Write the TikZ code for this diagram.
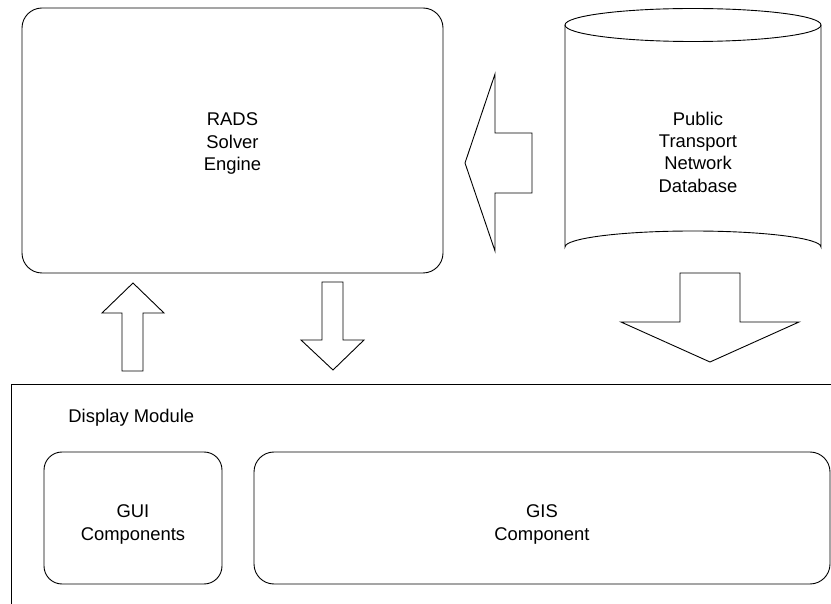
\documentclass[tikz,border=0pt]{standalone}
\usepackage{fontspec}
\setmainfont{Liberation Sans}
\begin{document}
\begin{tikzpicture}[x=1pt,y=-1pt,
  line width=0.9pt,
  lbl/.style={align=center,font=\fontsize{18.4}{22.3}\selectfont,inner sep=0pt},
  rbox/.style={draw,rounded corners=20pt},
  blockarrow/.style={draw,fill=white,line join=miter}]
\useasboundingbox (0,0) rectangle (831,604);
% RADS solver engine
\node[rbox,minimum width=421pt,minimum height=265pt] (rads) at (232.5,140.5) {};
\node[lbl] (radsl) at (232.5,143.5) {RADS\\Solver\\Engine};
% database cylinder
\draw (565,25) -- (565,247) arc[start angle=180,end angle=360,x radius=128,y radius=16] -- (821,25);
\draw (693,25) ellipse[x radius=128,y radius=16.5];
\node[lbl] (db) at (698,152) {Public\\Transport\\Network\\Database};
% big left arrow (db -> rads)
\draw[blockarrow] (465,163) -- (495,74) -- (495,133) -- (532,133) -- (532,193) -- (495,193) -- (495,251) -- cycle;
% down arrow below database
\draw[blockarrow] (680,273) -- (740,273) -- (740,322) -- (799,322) -- (710,362) -- (621,322) -- (680,322) -- cycle;
% up arrow (display -> rads)
\draw[blockarrow] (133,283) -- (164,313) -- (143,313) -- (143,371) -- (122,371) -- (122,313) -- (102,313) -- cycle;
% down arrow (rads -> display)
\draw[blockarrow] (322,282) -- (343,282) -- (343,340) -- (364,340) -- (333,370) -- (301,340) -- (322,340) -- cycle;
% display module frame
\draw (840,384) -- (11,384) -- (11,612);
\node[lbl,anchor=base west] (dm) at (68,423) {Display Module};
% components
\node[draw,rounded corners=18pt,minimum width=178pt,minimum height=132pt] (gui) at (133,518) {};
\node[lbl] (guil) at (133,524.5) {GUI\\Components};
\node[rbox,minimum width=576pt,minimum height=132pt] (gis) at (542,518) {};
\node[lbl] (gisl) at (542,524.5) {GIS\\Component};
\end{tikzpicture}
\end{document}
